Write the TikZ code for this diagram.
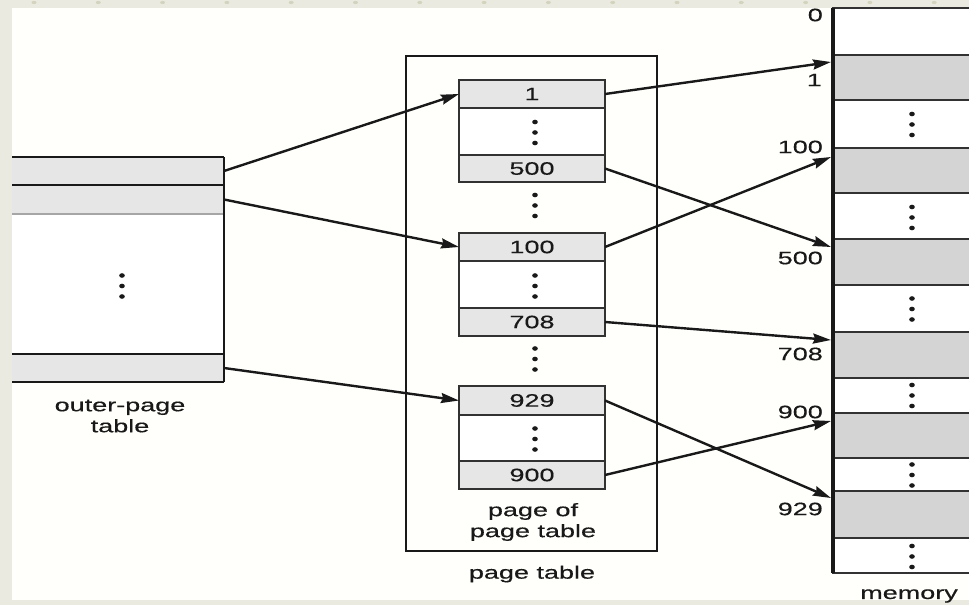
\documentclass[tikz,border=0pt]{standalone}
\usepackage{fontspec}
\newfontfamily\labfont[FakeStretch=1.5,FakeBold=0.4]{Liberation Sans}
\usetikzlibrary{arrows.meta,calc}
\definecolor{framebg}{RGB}{234,234,224}
\definecolor{innerbg}{RGB}{255,255,251}
\definecolor{cellgray}{RGB}{230,230,230}
\definecolor{memgray}{RGB}{212,212,212}
\definecolor{ink}{RGB}{25,25,25}
\definecolor{rule}{RGB}{50,50,50}
\definecolor{framedot}{RGB}{212,212,190}
\begin{document}
\begin{tikzpicture}[x=1pt,y=-1pt,
  txt/.style={font=\labfont\fontsize{18}{22}\selectfont, text=ink, inner sep=0pt},
  cell/.style={txt, draw=rule, line width=2pt, fill=cellgray, minimum width=146pt,
    minimum height=28pt, outer sep=0pt, anchor=north west},
  gapcell/.style={cell, fill=white},
  ofill/.style={fill=cellgray, minimum width=212pt, minimum height=28pt, inner sep=0pt,
    outer sep=0pt, anchor=north west},
  tline/.style={draw=ink, line width=2.2pt},
  mcell/.style={draw=rule, line width=1.8pt, fill=memgray, minimum width=145pt,
    inner sep=0pt, outer sep=0pt, anchor=north west},
  mgap/.style={mcell, fill=white},
  arr/.style={draw=ink, line width=2.4pt, -{Stealth[length=18pt,width=10pt,inset=2pt]}},
  vdts/.pic={\fill[ink] (0,-10.5) ellipse[x radius=2.8,y radius=2.3]
     (0,0) ellipse[x radius=2.8,y radius=2.3] (0,10.5) ellipse[x radius=2.8,y radius=2.3];}
]
\useasboundingbox (0,0) rectangle (969,605);
% frame
\fill[framebg] (0,0) rectangle (969,605);
\fill[innerbg] (12,8) rectangle (969,600);
\foreach \k in {0,...,14} {\fill[framedot] (34+64.3*\k,2.5) ellipse[x radius=2.5,y radius=1.6];}

% outer-page table
\node[ofill] (o1) at (12,157) {};
\node[ofill, minimum height=29pt] (o2) at (12,185) {};
\node[ofill, fill=white, minimum height=140pt] (o3) at (12,214) {};
\node[ofill] (o4) at (12,354) {};
\draw[tline] (o1.north west) -- (o1.north east);
\draw[tline] (o1.south west) -- (o1.south east);
\draw[draw=gray!70, line width=1.6pt] (o2.south west) -- (o2.south east);
\draw[tline] (o4.north west) -- (o4.north east);
\draw[tline] (o4.south west) -- (o4.south east);
\draw[tline] (o1.north east) -- (o4.south east);
\pic at (122,286) {vdts};
\node[txt, align=center] (olab) at (120,416) {outer-page\\[-1pt]table};

% page table frame
\node[draw=ink, line width=2.2pt, minimum width=251pt, minimum height=495pt, inner sep=0pt,
  outer sep=0pt, anchor=north west] (pt) at (406,56) {};
\node[txt] (ptlab) at (532,574) {page table};

% blocks
\node[cell] (p1) at (459,80) {1};
\node[gapcell, minimum height=47pt] (g1) at (459,108) {};
\node[cell, minimum height=27pt] (p500) at (459,155) {500};
\pic at (535,132.5) {vdts};
\pic at (535,205.5) {vdts};

\node[cell] (p100) at (459,233) {100};
\node[gapcell, minimum height=47pt] (g2) at (459,261) {};
\node[cell] (p708) at (459,308) {708};
\pic at (535,286) {vdts};
\pic at (535,359) {vdts};

\node[cell, minimum height=29pt] (p929) at (459,386) {929};
\node[gapcell, minimum height=46pt] (g3) at (459,415) {};
\node[cell] (p900) at (459,461) {900};
\pic at (535,439) {vdts};
\node[txt, align=center] (poplab) at (533,522) {page of\\[-1pt]page table};

% memory
\node[mgap, minimum height=47pt] (m0) at (833,8) {};
\node[mcell, minimum height=45pt] (mA) at (833,55) {};
\node[mgap, minimum height=48pt] (mB) at (833,100) {};
\node[mcell, minimum height=45pt] (mC) at (833,148) {};
\node[mgap, minimum height=46pt] (mD) at (833,193) {};
\node[mcell, minimum height=46pt] (mE) at (833,239) {};
\node[mgap, minimum height=47pt] (mF) at (833,285) {};
\node[mcell, minimum height=46pt] (mG) at (833,332) {};
\node[mgap, minimum height=35pt] (mH) at (833,378) {};
\node[mcell, minimum height=45pt] (mI) at (833,413) {};
\node[mgap, minimum height=33pt] (mJ) at (833,458) {};
\node[mcell, minimum height=47pt] (mK) at (833,491) {};
\node[mgap, minimum height=35pt] (mL) at (833,538) {};
\draw[ink, line width=3.8pt] (833,8) -- (833,573);
\pic at (912,124.5) {vdts};
\pic at (912,217.5) {vdts};
\pic at (912,309) {vdts};
\pic at (912,395.5) {vdts};
\pic at (912,475) {vdts};
\pic at (912,556.5) {vdts};
\node[txt] (memlab) at (909,596) {memory};

% memory address labels
\node[txt, anchor=east] (a0) at (823,15) {0};
\node[txt, anchor=east] (a1) at (822,80) {1};
\node[txt, anchor=east] (a100) at (823,147) {100};
\node[txt, anchor=east] (a500) at (823,258) {500};
\node[txt, anchor=east] (a708) at (823,354) {708};
\node[txt, anchor=east] (a900) at (823,412) {900};
\node[txt, anchor=east] (a929) at (823,509) {929};

% arrow targets on memory
\coordinate (t1) at (831,62);
\coordinate (t100) at (831,157);
\coordinate (t500) at (831,247);
\coordinate (t708) at (831,340);
\coordinate (t900) at (831,421);
\coordinate (t929) at (831,498);

% arrows
\draw[arr] (o1.east) -- (p1.west);
\draw[arr] (o2.east) -- (p100.west);
\draw[arr] (o4.east) -- (p929.west);
\draw[arr] (p1.east) -- (t1);
\draw[arr] (p500.east) -- (t500);
\draw[arr] (p100.east) -- (t100);
\draw[arr] (p708.east) -- (t708);
\draw[arr] (p929.east) -- (t929);
\draw[arr] (p900.east) -- (t900);
\end{tikzpicture}
\end{document}
